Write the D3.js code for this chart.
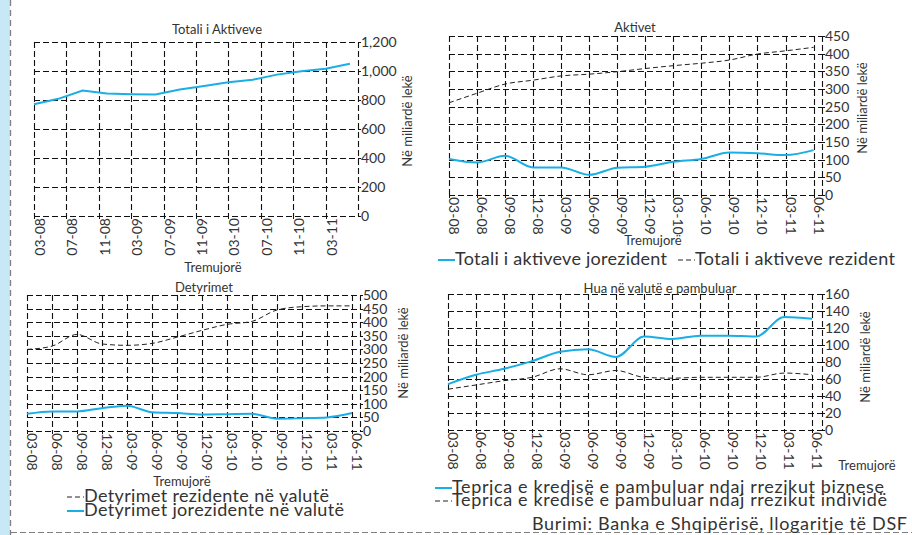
<!DOCTYPE html>
<html>
<head>
<meta charset="utf-8">
<script src="https://cdn.jsdelivr.net/npm/d3@7"></script>
<style>
  html, body { margin: 0; padding: 0; background: #ffffff; }
  svg { display: block; }
  text { font-family: Lato, "Open Sans", sans-serif; fill: #333; }
</style>
</head>
<body>
<svg id="chart" width="912" height="535"></svg>
<script>
// ---------------- DATA ----------------
const quarters = ["03-08","06-08","09-08","12-08","03-09","06-09","09-09","12-09","03-10","06-10","09-10","12-10","03-11","06-11"];
// Panel 1 (monthly axis, ticks every 4 months)
const p1Labels = ["03-08","07-08","11-08","03-09","07-09","11-09","03-10","07-10","11-10","03-11"];
const totalAssets = [770, 808, 865, 845, 840, 838, 872, 897, 922, 940, 975, 998, 1016, 1050];
// Panel 2 Aktivet
const assetsNonResident = [102, 92, 111, 78, 78, 57, 77, 80, 94, 102, 120, 118, 113, 127];
const assetsResident = [261, 288, 314, 325, 337, 342, 349, 358, 366, 373, 382, 399, 408, 418];
// Panel 3 Detyrimet
const liabResident = [300, 312, 355, 320, 315, 322, 345, 370, 392, 403, 445, 457, 460, 460];
const liabNonResident = [63, 72, 72, 84, 93, 69, 66, 61, 62, 63, 45, 47, 50, 66];
// Panel 4 Hua
const loansBusiness = [54, 65, 72, 81, 92, 95, 86, 110, 107, 111, 111, 110, 133, 131];
const loansIndividual = [48, 53, 58, 62, 72, 65, 70, 62, 61, 62, 62, 62, 67, 65];

const titles = ["Totali i Aktiveve", "Aktivet", "Detyrimet", "Hua në valutë e pambuluar"];
const yTitleText = "Në miliardë lekë";
const xTitleText = "Tremujorë";
const legend2 = ["Totali i aktiveve jorezident", "Totali i aktiveve rezident"];
const legend3 = ["Detyrimet rezidente në valutë", "Detyrimet jorezidente në valutë"];
const legend4 = ["Teprica e kredisë e pambuluar ndaj rrezikut biznese", "Teprica e kredisë e pambuluar ndaj rrezikut individë"];
const sourceText = "Burimi: Banka e Shqipërisë, llogaritje të DSF";

// ---------------- STYLE ----------------
const BLUE = "#1aaee6";
const GRID = "#111";
const svg = d3.select("#chart");

// frame decorations
svg.append("rect").attr("x", 0).attr("y", 0).attr("width", 10).attr("height", 535).attr("fill", "#c8e8f8");
svg.append("line").attr("x1", 10.5).attr("x2", 10.5).attr("y1", 0).attr("y2", 535)
  .attr("stroke", "#808080").attr("stroke-width", 1.3).attr("stroke-dasharray", "6,4");
svg.append("line").attr("x1", 11).attr("x2", 912).attr("y1", 532.5).attr("y2", 532.5)
  .attr("stroke", "#808080").attr("stroke-width", 1).attr("stroke-dasharray", "6,3");

function panel(c) {
  const g = svg.append("g");
  const x = d3.scaleLinear().domain([0, c.xMax]).range([c.left, c.right]);
  const y = d3.scaleLinear().domain([0, c.yMax]).range([c.bottom, c.top]);
  const yTicks = d3.range(0, c.yMax + 0.001, c.yStep);

  // horizontal grid
  g.selectAll(".hg").data(yTicks).join("line")
    .attr("x1", c.left).attr("x2", c.right)
    .attr("y1", d => Math.round(y(d)) + 0.5).attr("y2", d => Math.round(y(d)) + 0.5)
    .attr("stroke", GRID).attr("stroke-width", 1.1).attr("stroke-dasharray", "6,3");
  // vertical grid
  const vg = c.xGrid.concat([c.xMax]);
  g.selectAll(".vg").data(vg).join("line")
    .attr("x1", d => Math.round(x(d)) + 0.5).attr("x2", d => Math.round(x(d)) + 0.5)
    .attr("y1", c.top).attr("y2", c.bottom)
    .attr("stroke", GRID).attr("stroke-width", 1.1).attr("stroke-dasharray", "6,3");

  // y ticks and labels (right side)
  g.selectAll(".yt").data(yTicks).join("line")
    .attr("x1", c.right).attr("x2", c.right + 3)
    .attr("y1", d => Math.round(y(d)) + 0.5).attr("y2", d => Math.round(y(d)) + 0.5)
    .attr("stroke", GRID);
  g.selectAll(".yl").data(yTicks).join("text")
    .attr("x", c.right + 3).attr("y", d => y(d)).attr("dy", "0.36em")
    .attr("font-size", 14).text(d => c.yFormat(d));

  // x ticks and labels
  g.selectAll(".xt").data(c.xTicks).join("line")
    .attr("x1", d => Math.round(x(d)) + 0.5).attr("x2", d => Math.round(x(d)) + 0.5)
    .attr("y1", c.bottom).attr("y2", c.bottom + 3).attr("stroke", GRID);
  g.selectAll(".xl").data(c.xTicks).join("text")
    .attr("transform", d => c.rot < 0
      ? `translate(${x(d)},${c.bottom + 2}) rotate(-90)`
      : `translate(${x(d)},${c.bottom + 2}) rotate(90)`)
    .attr("text-anchor", c.rot < 0 ? "end" : "start")
    .attr("dy", c.rot < 0 ? "0.78em" : "0")
    .attr("font-size", 14)
    .text((d, i) => c.xLabels[i]);

  // titles
  g.append("text").attr("x", c.title.x).attr("y", c.title.y).attr("text-anchor", "middle")
    .attr("font-size", 13).text(c.title.text);
  g.append("text").attr("transform", `translate(${c.yTitle.x},${c.yTitle.y}) rotate(-90)`)
    .attr("text-anchor", "middle").attr("dy", "0.35em").attr("font-size", 13).text(yTitleText);
  g.append("text").attr("x", c.xTitle.x).attr("y", c.xTitle.y).attr("text-anchor", "middle")
    .attr("font-size", 13).text(xTitleText);

  // series
  c.series.forEach(s => {
    const line = d3.line()
      .x((d, i) => x(s.xs[i]))
      .y(d => y(d))
      .curve(s.curve);
    g.append("path").datum(s.values)
      .attr("d", line).attr("fill", "none")
      .attr("stroke", s.color).attr("stroke-width", s.width)
      .attr("stroke-dasharray", s.dash || null);
  });
  return g;
}

const qIdx = quarters.map((d, i) => i);
const mIdx = quarters.map((d, i) => i * 3);
const fmtComma = d3.format(",");
const fmtPlain = d3.format("d");

// Panel 1
panel({
  left: 34, right: 358, top: 42, bottom: 216,
  xMax: 40, yMax: 1200, yStep: 200, yFormat: fmtComma,
  xGrid: d3.range(0, 40, 4), xTicks: d3.range(0, 37, 4), xLabels: p1Labels, rot: -90,
  title: {text: titles[0], x: 217, y: 34},
  yTitle: {x: 407, y: 121}, xTitle: {x: 213, y: 272},
  series: [{values: totalAssets, xs: mIdx, color: BLUE, width: 2, curve: d3.curveLinear}]
});

// Panel 2
panel({
  left: 449, right: 822, top: 36, bottom: 195,
  xMax: 13.3, yMax: 450, yStep: 50, yFormat: fmtPlain,
  xGrid: qIdx, xTicks: qIdx, xLabels: quarters, rot: 90,
  title: {text: titles[1], x: 635, y: 32},
  yTitle: {x: 862, y: 108}, xTitle: {x: 653, y: 245},
  series: [
    {values: assetsResident, xs: qIdx, color: "#222", width: 1, dash: "5,3", curve: d3.curveMonotoneX},
    {values: assetsNonResident, xs: qIdx, color: BLUE, width: 2, curve: d3.curveMonotoneX}
  ]
});

// Panel 3
panel({
  left: 27, right: 360, top: 295, bottom: 431,
  xMax: 13.32, yMax: 500, yStep: 50, yFormat: fmtPlain,
  xGrid: qIdx, xTicks: qIdx, xLabels: quarters, rot: 90,
  title: {text: titles[2], x: 204, y: 292},
  yTitle: {x: 403, y: 353}, xTitle: {x: 182, y: 486},
  series: [
    {values: liabResident, xs: qIdx, color: "#222", width: 1, dash: "5,3", curve: d3.curveMonotoneX},
    {values: liabNonResident, xs: qIdx, color: BLUE, width: 2, curve: d3.curveMonotoneX}
  ]
});

// Panel 4
panel({
  left: 448, right: 822, top: 294, bottom: 430,
  xMax: 13.35, yMax: 160, yStep: 20, yFormat: fmtPlain,
  xGrid: qIdx, xTicks: qIdx, xLabels: quarters, rot: 90,
  title: {text: titles[3], x: 660, y: 293},
  yTitle: {x: 865, y: 357}, xTitle: {x: 867, y: 470},
  series: [
    {values: loansIndividual, xs: qIdx, color: "#222", width: 1, dash: "5,3", curve: d3.curveMonotoneX},
    {values: loansBusiness, xs: qIdx, color: BLUE, width: 2, curve: d3.curveMonotoneX}
  ]
});

// Legends
function legendItem(x, yLine, yText, color, dashed, label, len) {
  svg.append("line").attr("x1", x).attr("x2", x + 17).attr("y1", yLine).attr("y2", yLine)
    .attr("stroke", color).attr("stroke-width", dashed ? 1 : 2)
    .attr("stroke-dasharray", dashed ? "5,3" : null);
  svg.append("text").attr("x", x + 17).attr("y", yText).attr("font-size", 18)
    .attr("textLength", len).attr("lengthAdjust", "spacing").text(label);
}
legendItem(438, 260, 265, BLUE, false, legend2[0], 212);
legendItem(678, 260, 265, "#222", true, legend2[1], 200);
legendItem(67, 497, 502, "#222", true, legend3[0], 245);
legendItem(67, 511, 516, BLUE, false, legend3[1], 260);
legendItem(435, 488, 493, BLUE, false, legend4[0], 432);
legendItem(435, 501, 506, "#222", true, legend4[1], 435);

svg.append("text").attr("x", 532).attr("y", 530)
  .attr("font-size", 18).attr("textLength", 375).attr("lengthAdjust", "spacing").text(sourceText);
</script>
</body>
</html>
